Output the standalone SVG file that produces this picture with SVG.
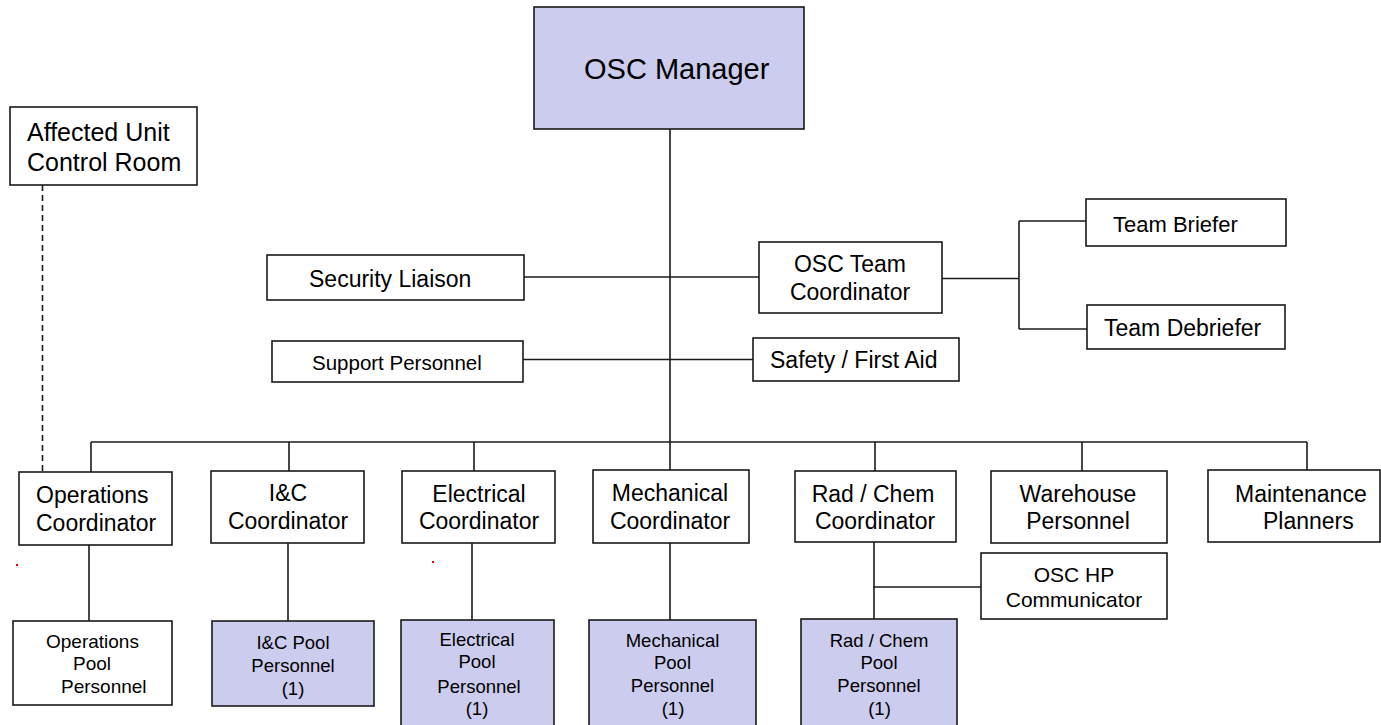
<svg xmlns="http://www.w3.org/2000/svg" width="1381" height="725" viewBox="0 0 1381 725">
<style>
.box{fill:#ffffff;stroke:#1a1a1a;stroke-width:1.6}
.lav{fill:#ccccee;stroke:#1a1a1a;stroke-width:1.6}
.t{font-family:"Liberation Sans",Arial,sans-serif;font-size:23px;fill:#000}
.s{font-family:"Liberation Sans",Arial,sans-serif;font-size:18.5px;fill:#000}
.c{text-anchor:middle}
.ln{stroke:#1a1a1a;stroke-width:1.6;fill:none}
</style>
<rect width="1381" height="725" fill="#ffffff"/>
<g id="connectors">
<line class="ln" x1="670" y1="129" x2="670" y2="470"/>
<line class="ln" x1="524" y1="277" x2="759" y2="277"/>
<line class="ln" x1="523" y1="359.5" x2="753" y2="359.5"/>
<line class="ln" x1="942" y1="278.5" x2="1019" y2="278.5"/>
<line class="ln" x1="1019" y1="221" x2="1019" y2="329"/>
<line class="ln" x1="1019" y1="221" x2="1086" y2="221"/>
<line class="ln" x1="1019" y1="329" x2="1087" y2="329"/>
<line class="ln" x1="91" y1="442" x2="1307" y2="442"/>
<line class="ln" x1="91" y1="442" x2="91" y2="472"/>
<line class="ln" x1="289" y1="442" x2="289" y2="471"/>
<line class="ln" x1="474" y1="442" x2="474" y2="471"/>
<line class="ln" x1="875" y1="442" x2="875" y2="471"/>
<line class="ln" x1="1082" y1="442" x2="1082" y2="471"/>
<line class="ln" x1="1307" y1="442" x2="1307" y2="470"/>
<line class="ln" x1="89" y1="545" x2="89" y2="621"/>
<line class="ln" x1="288" y1="543" x2="288" y2="621"/>
<line class="ln" x1="472" y1="543" x2="472" y2="620"/>
<line class="ln" x1="670" y1="543" x2="670" y2="620"/>
<line class="ln" x1="874" y1="542" x2="874" y2="619"/>
<line class="ln" x1="873" y1="587" x2="981" y2="587"/>
<line class="ln" x1="42.5" y1="185" x2="42.5" y2="472" stroke-dasharray="6,4"/>
</g>
<g id="osc-manager"><rect class="lav" x="534" y="7" width="270" height="122"/><text class="t" x="584" y="79" style="font-size:29px">OSC Manager</text></g>
<g id="affected-unit"><rect class="box" x="10" y="107" width="187" height="78"/><text class="t" x="27" y="141" style="font-size:25px">Affected Unit</text><text class="t" x="27" y="171" style="font-size:25px">Control Room</text></g>
<g id="security-liaison"><rect class="box" x="267" y="255" width="257" height="45"/><text class="t" x="309" y="287">Security Liaison</text></g>
<g id="support-personnel"><rect class="box" x="272" y="341" width="251" height="41"/><text class="t" x="312" y="370" style="font-size:20.5px">Support Personnel</text></g>
<g id="osc-team-coordinator"><rect class="box" x="759" y="242" width="183" height="71"/><text class="t c" x="850" y="272">OSC Team</text><text class="t c" x="850" y="300">Coordinator</text></g>
<g id="safety-first-aid"><rect class="box" x="753" y="338" width="206" height="43"/><text class="t" x="770" y="368">Safety / First Aid</text></g>
<g id="team-briefer"><rect class="box" x="1086" y="199" width="200" height="47"/><text class="t" x="1113" y="232" style="font-size:22px">Team Briefer</text></g>
<g id="team-debriefer"><rect class="box" x="1087" y="305" width="198" height="44"/><text class="t" x="1104" y="336">Team Debriefer</text></g>
<g id="operations-coordinator"><rect class="box" x="19" y="472" width="153" height="73"/><text class="t" x="36" y="503">Operations</text><text class="t" x="36" y="531">Coordinator</text></g>
<g id="ic-coordinator"><rect class="box" x="211" y="471" width="153" height="72"/><text class="t c" x="288" y="501">I&amp;C</text><text class="t c" x="288" y="529">Coordinator</text></g>
<g id="electrical-coordinator"><rect class="box" x="402" y="471" width="153" height="72"/><text class="t c" x="479" y="502">Electrical</text><text class="t c" x="479" y="529">Coordinator</text></g>
<g id="mechanical-coordinator"><rect class="box" x="593" y="470" width="156" height="73"/><text class="t c" x="670" y="501">Mechanical</text><text class="t c" x="670" y="529">Coordinator</text></g>
<g id="radchem-coordinator"><rect class="box" x="795" y="471" width="161" height="71"/><text class="t c" x="873" y="502">Rad / Chem</text><text class="t c" x="875" y="529">Coordinator</text></g>
<g id="warehouse-personnel"><rect class="box" x="991" y="471" width="176" height="72"/><text class="t c" x="1078" y="502">Warehouse</text><text class="t c" x="1078" y="529">Personnel</text></g>
<g id="maintenance-planners"><rect class="box" x="1208" y="470" width="172" height="72"/><text class="t" x="1235" y="502">Maintenance</text><text class="t" x="1263" y="529">Planners</text></g>
<g id="osc-hp-communicator"><rect class="box" x="981" y="553" width="186" height="66"/><text class="t c" x="1074" y="582" style="font-size:21px">OSC HP</text><text class="t c" x="1074" y="607" style="font-size:21px">Communicator</text></g>
<g id="operations-pool"><rect class="box" x="13" y="621" width="159" height="84"/><text class="s" x="46" y="648" style="font-size:19px">Operations</text><text class="s" x="73" y="670" style="font-size:19px">Pool</text><text class="s" x="61" y="693" style="font-size:19px">Personnel</text></g>
<g id="ic-pool"><rect class="lav" x="212" y="621" width="162" height="85"/><text class="s c" x="293" y="649">I&amp;C Pool</text><text class="s c" x="293" y="672">Personnel</text><text class="s c" x="293" y="695">(1)</text></g>
<g id="electrical-pool"><rect class="lav" x="401" y="620" width="153" height="110"/><text class="s c" x="477" y="646">Electrical</text><text class="s c" x="477" y="668">Pool</text><text class="s c" x="479" y="693">Personnel</text><text class="s c" x="477" y="715">(1)</text></g>
<g id="mechanical-pool"><rect class="lav" x="589" y="620" width="167" height="110"/><text class="s c" x="672.5" y="647">Mechanical</text><text class="s c" x="672.5" y="669">Pool</text><text class="s c" x="672.5" y="692">Personnel</text><text class="s c" x="673" y="715">(1)</text></g>
<g id="radchem-pool"><rect class="lav" x="801" y="619" width="156" height="111"/><text class="s c" x="879" y="647">Rad / Chem</text><text class="s c" x="879" y="669">Pool</text><text class="s c" x="879" y="692">Personnel</text><text class="s c" x="879.5" y="715">(1)</text></g>
<g id="marks"><rect x="16" y="564" width="2" height="2" fill="#ff0000"/><rect x="432" y="561" width="2" height="2" fill="#ff0000"/></g>
</svg>
